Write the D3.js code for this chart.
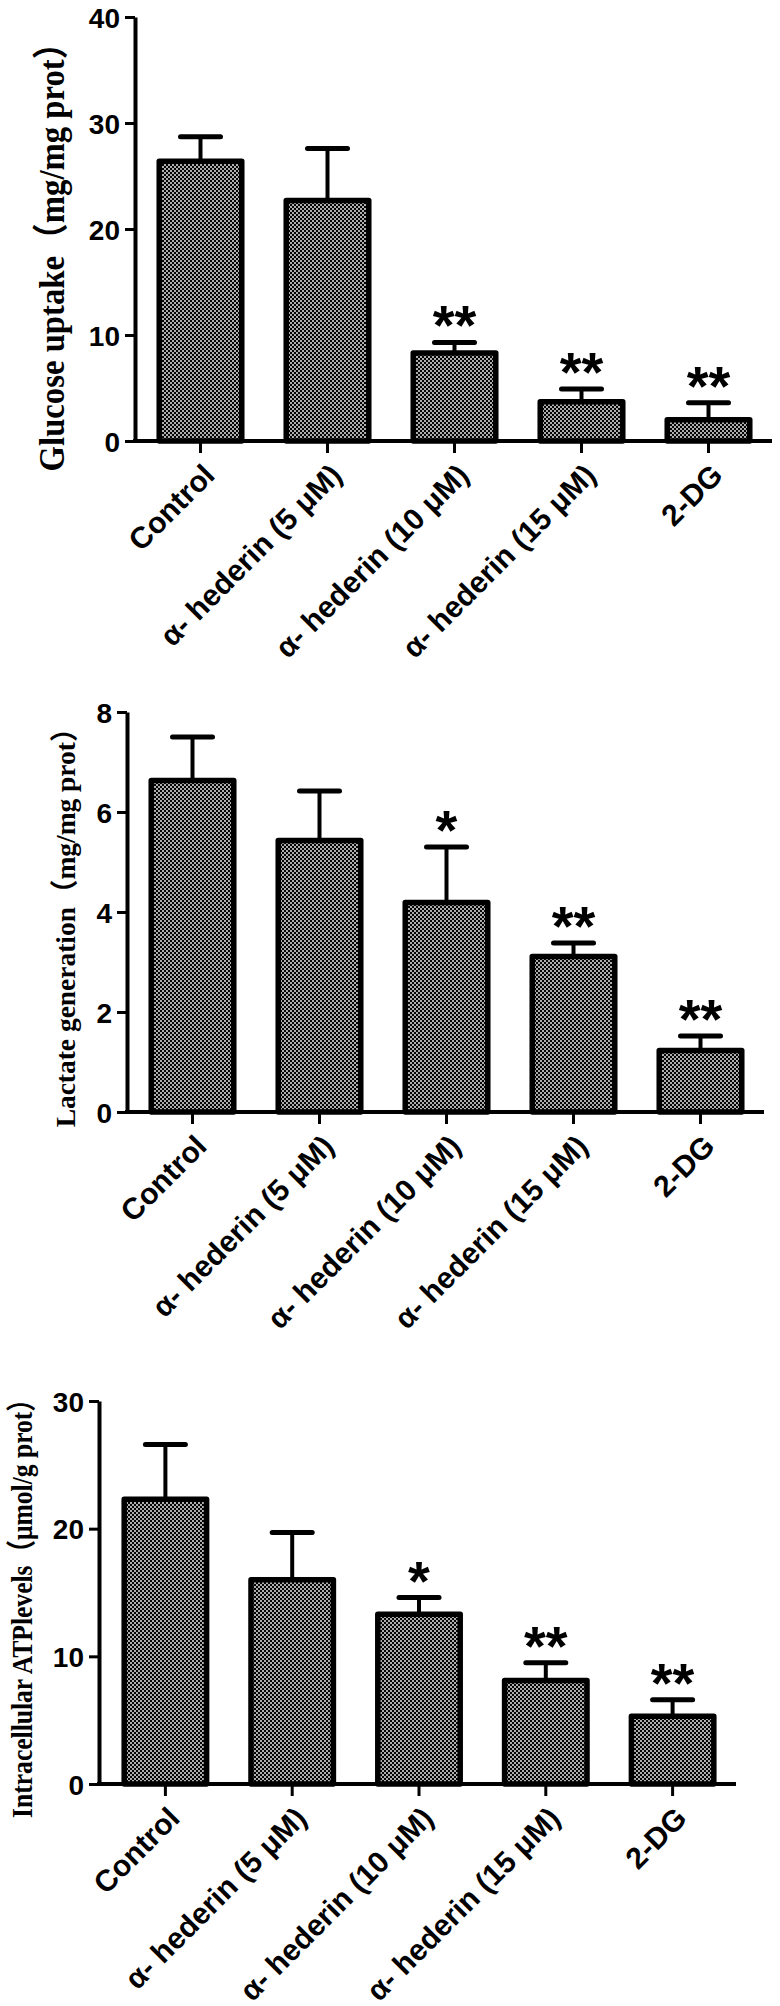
<!DOCTYPE html>
<html>
<head>
<meta charset="utf-8">
<script src="https://cdn.jsdelivr.net/npm/d3@7"></script>
<style>
  body { margin: 0; background: #fff; }
  svg { display: block; }
  .tick text { font-family: "Liberation Sans", Arial, sans-serif; font-weight: bold; fill: #000; }
</style>
</head>
<body>
<div id="chart"></div>
<script>
// groups on the x axis (same for all three panels)
var groups = ["Control", "α- hederin (5 μM)", "α- hederin (10 μM)", "α- hederin (15 μM)", "2-DG"];

// glucose uptake (mg/mg prot)
var glucoseMean = [26.4, 22.7, 8.3, 3.7, 2.0];
var glucoseErr  = [2.3, 4.9, 1.0, 1.2, 1.6];
var glucoseSig  = ["", "", "**", "**", "**"];
var glucoseTicks = [0, 10, 20, 30, 40];

// lactate generation (mg/mg prot)
var lactateMean = [6.63, 5.43, 4.19, 3.11, 1.23];
var lactateErr  = [0.87, 0.99, 1.11, 0.27, 0.29];
var lactateSig  = ["", "", "*", "**", "**"];
var lactateTicks = [0, 2, 4, 6, 8];

// intracellular ATP (umol/g prot)
var atpMean = [22.3, 16.0, 13.3, 8.1, 5.3];
var atpErr  = [4.3, 3.7, 1.3, 1.4, 1.3];
var atpSig  = ["", "", "*", "**", "**"];
var atpTicks = [0, 10, 20, 30];

// layout of each panel
var panels = [
  {mean: glucoseMean, err: glucoseErr, sig: glucoseSig, ticks: glucoseTicks,
   title: "Glucose uptake（mg/mg prot）", titleX: 64, titleY: 249, titleLen: 445, titleSize: 36,
   axisX: 135, x0: 137, x1: 772, yBase: 441, yTop: 17},
  {mean: lactateMean, err: lactateErr, sig: lactateSig, ticks: lactateTicks,
   title: "Lactate generation（mg/mg prot）", titleX: 75, titleY: 921, titleLen: 413, titleSize: 28,
   axisX: 127, x0: 129, x1: 764, yBase: 1112, yTop: 712},
  {mean: atpMean, err: atpErr, sig: atpSig, ticks: atpTicks,
   title: "Intracellular ATPlevels（μmol/g prot）", titleX: 32, titleY: 1602, titleLen: 432, titleSize: 30,
   axisX: 99, x0: 102, x1: 736, yBase: 1784, yTop: 1401}
];

var svg = d3.select("#chart").append("svg")
    .attr("width", 780)
    .attr("height", 2006);

// dotted fill used by the bars
var pat = svg.append("defs").append("pattern")
    .attr("id", "dots")
    .attr("patternUnits", "userSpaceOnUse")
    .attr("width", 4)
    .attr("height", 4);
pat.append("rect").attr("width", 4).attr("height", 4).attr("fill", "#050505");
pat.append("circle").attr("cx", 1).attr("cy", 1).attr("r", 0.9).attr("fill", "#fff");
pat.append("circle").attr("cx", 3).attr("cy", 3).attr("r", 0.9).attr("fill", "#fff");

panels.forEach(function(p) {
  var g = svg.append("g");

  var x = d3.scaleBand()
      .domain(groups)
      .range([p.x0, p.x1])
      .paddingInner(0.35)
      .paddingOuter(0.175);

  var y = d3.scaleLinear()
      .domain([0, d3.max(p.ticks)])
      .range([p.yBase, p.yTop]);

  var cx = function(i) { return x(groups[i]) + x.bandwidth() / 2; };

  // bars
  g.selectAll(".bar")
      .data(p.mean)
    .enter().append("rect")
      .attr("class", "bar")
      .attr("x", function(d, i) { return x(groups[i]); })
      .attr("width", x.bandwidth())
      .attr("y", function(d) { return y(d); })
      .attr("height", function(d) { return y(0) - y(d); })
      .attr("fill", "url(#dots)")
      .attr("stroke", "#000")
      .attr("stroke-width", 5.5)
      .attr("stroke-linejoin", "round");

  // error bars (upper only)
  g.selectAll(".stem")
      .data(p.mean)
    .enter().append("line")
      .attr("x1", function(d, i) { return cx(i); })
      .attr("x2", function(d, i) { return cx(i); })
      .attr("y1", function(d) { return y(d); })
      .attr("y2", function(d, i) { return y(d + p.err[i]); })
      .attr("stroke", "#000")
      .attr("stroke-width", 4);

  g.selectAll(".cap")
      .data(p.mean)
    .enter().append("line")
      .attr("x1", function(d, i) { return cx(i) - 20; })
      .attr("x2", function(d, i) { return cx(i) + 20; })
      .attr("y1", function(d, i) { return y(d + p.err[i]); })
      .attr("y2", function(d, i) { return y(d + p.err[i]); })
      .attr("stroke", "#000")
      .attr("stroke-width", 5)
      .attr("stroke-linecap", "round");

  // significance stars
  g.selectAll(".sig")
      .data(p.mean)
    .enter().append("text")
      .attr("x", function(d, i) { return cx(i); })
      .attr("y", function(d, i) { return y(d + p.err[i]) + 2; })
      .attr("text-anchor", "middle")
      .style("font-family", "'Liberation Sans', Arial, sans-serif")
      .style("font-weight", "bold")
      .style("font-size", "56px")
      .text(function(d, i) { return p.sig[i]; });

  // y axis
  var yAxis = g.append("g")
      .attr("transform", "translate(" + p.axisX + ",0)")
      .call(d3.axisLeft(y).tickValues(p.ticks).tickSize(10).tickSizeOuter(0).tickPadding(5));
  yAxis.select(".domain").attr("stroke-width", 4);
  yAxis.selectAll(".tick line").attr("stroke-width", 3);
  yAxis.selectAll(".tick text").style("font-size", "28px").attr("dy", "0.36em");

  // x axis
  var xAxis = g.append("g")
      .attr("transform", "translate(0," + p.yBase + ")")
      .call(d3.axisBottom(x).tickSize(12).tickSizeOuter(0));
  xAxis.select(".domain").attr("d", "M" + (p.axisX - 2) + ",0H" + p.x1).attr("stroke-width", 4);
  xAxis.selectAll(".tick line").attr("stroke-width", 3);
  xAxis.selectAll(".tick text")
      .attr("x", 0).attr("y", 0).attr("dy", 0)
      .attr("transform", "translate(16,36) rotate(-45)")
      .attr("text-anchor", "end")
      .style("font-size", "30px");

  // y axis title, squeezed along its baseline to the measured length
  var t = g.append("text")
      .attr("text-anchor", "middle")
      .style("font-family", "'Liberation Serif', 'Times New Roman', 'Noto Sans CJK SC', serif")
      .style("font-weight", "bold")
      .style("font-size", p.titleSize + "px")
      .text(p.title);
  var natural = t.node().getComputedTextLength();
  t.attr("transform", "translate(" + p.titleX + "," + p.titleY + ") rotate(-90) scale(" + (p.titleLen / natural) + ",1)");
});
</script>
</body>
</html>
